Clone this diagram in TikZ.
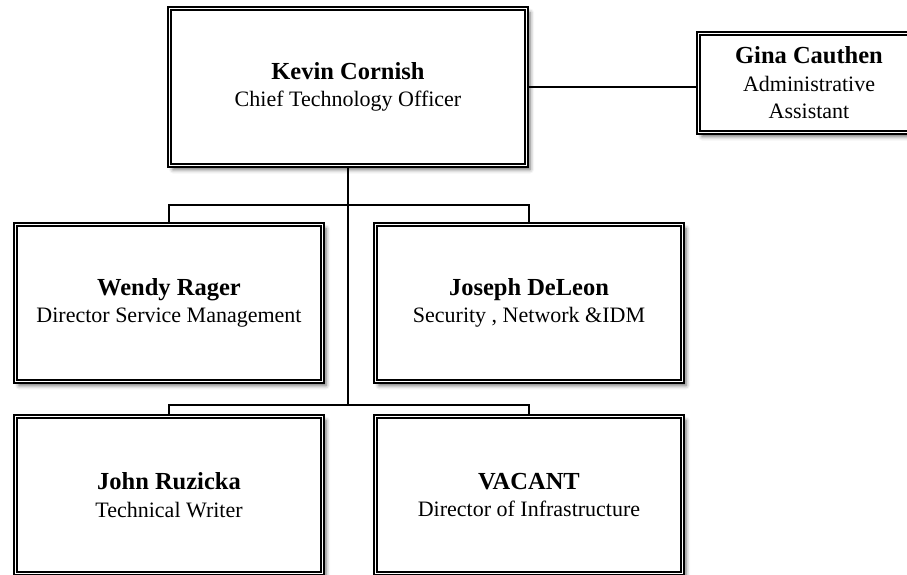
\documentclass[tikz,border=0pt]{standalone}
\usepackage{fontspec}
\setmainfont{Liberation Serif}
\usetikzlibrary{shadows.blur}
\newcommand{\who}[2]{{\fontsize{24.5}{27.5}\selectfont\bfseries #1}\\#2}

\begin{document}
\begin{tikzpicture}[x=1pt,y=-1pt,
    person/.style={draw=black,line width=1.5pt,double=white,double distance=1.8pt,fill=white,
      inner sep=0pt,minimum width=307pt,minimum height=157pt,align=center,
      font=\fontsize{22}{27.5}\selectfont,
      blur shadow={shadow xshift=3.5pt,shadow yshift=-4pt,shadow blur radius=4pt,shadow opacity=60}},
    link/.style={black,line width=1.3pt},
    trunk/.style={black,line width=2pt}]
    \useasboundingbox (0,0) rectangle (907,574);
    \clip (0,0) rectangle (907,574);

    \node[person,minimum width=357pt] (1) at (348,87) {\who{Kevin Cornish}{Chief Technology Officer}};
    \node[person,minimum width=221pt,minimum height=99pt] (2) at (809,83) {\who{Gina Cauthen}{Administrative\\Assistant}};

    \node[person] (3) at (169,303) {\who{Wendy Rager}{Director Service Management}};
    \node[person] (4) at (529,303) {\who{Joseph DeLeon}{Security , Network \&IDM}};
    \node[person] (5) at (169,495) {\who{John Ruzicka}{Technical Writer}};
    \node[person] (6) at (529,495) {\who{VACANT}{Director of Infrastructure}};

    \coordinate (a) at (348,205);
    \coordinate (b) at (348,405);

    \draw[trunk] (1.south) -- (b);
    \draw[link] (3.north) |- (a) -| (4.north);
    \draw[link] (5.north) |- (b) -| (6.north);
    \draw[link] (1.east) -- (2.west |- 1.east);
\end{tikzpicture}
\end{document}
